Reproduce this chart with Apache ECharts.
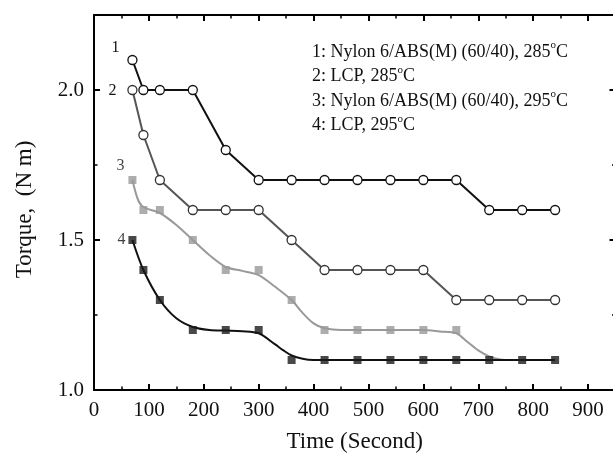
<!DOCTYPE html>
<html>
<head>
<meta charset="utf-8">
<script src="https://cdn.jsdelivr.net/npm/echarts@6/dist/echarts.min.js"></script>
<style>
html,body{margin:0;padding:0;background:#fff;overflow:hidden;}
#chart{width:620px;height:461px;}
</style>
</head>
<body>
<div id="chart"></div>
<script>
// ---- data ----
var times = [70, 90, 120, 180, 240, 300, 360, 420, 480, 540, 600, 660, 720, 780, 840];
var torque1 = [2.1, 2.0, 2.0, 2.0, 1.8, 1.7, 1.7, 1.7, 1.7, 1.7, 1.7, 1.7, 1.6, 1.6, 1.6];
var torque2 = [2.0, 1.85, 1.7, 1.6, 1.6, 1.6, 1.5, 1.4, 1.4, 1.4, 1.4, 1.3, 1.3, 1.3, 1.3];
var torque3 = [1.7, 1.6, 1.6, 1.5, 1.4, 1.4, 1.3, 1.2, 1.2, 1.2, 1.2, 1.2];
var torque4 = [1.5, 1.4, 1.3, 1.2, 1.2, 1.2, 1.1, 1.1, 1.1, 1.1, 1.1, 1.1, 1.1, 1.1, 1.1];
// fitted (smoothed) curves
var fit3Times = [70, 80, 90, 120, 150, 180, 210, 240, 270, 300, 330, 360, 380, 400, 420, 450, 500, 550, 600, 630, 660, 680, 700, 720, 740, 760];
var fit3 = [1.70, 1.635, 1.61, 1.59, 1.55, 1.50, 1.45, 1.41, 1.397, 1.383, 1.344, 1.30, 1.257, 1.222, 1.206, 1.20, 1.20, 1.20, 1.20, 1.195, 1.189, 1.161, 1.132, 1.112, 1.102, 1.10];
var fit4Times = [70, 90, 120, 150, 180, 210, 240, 270, 300, 330, 345, 360, 380, 400, 420, 840];
var fit4 = [1.50, 1.40, 1.30, 1.239, 1.21, 1.20, 1.198, 1.196, 1.189, 1.152, 1.132, 1.115, 1.104, 1.10, 1.10, 1.10];
var curveIds = ['1', '2', '3', '4'];
var legendLines = [
  '1: Nylon 6/ABS(M) (60/40), 285{sup|o}C',
  '2: LCP, 285{sup|o}C',
  '3: Nylon 6/ABS(M) (60/40), 295{sup|o}C',
  '4: LCP, 295{sup|o}C'
];
var xTicks = {min: 0, max: 950, interval: 100};
var yTicks = {min: 1.0, max: 2.25, interval: 0.5};

var FONT = 'Liberation Serif';

function pairs(xs, ys) {
  var out = [];
  for (var i = 0; i < ys.length; i++) out.push([xs[i], ys[i]]);
  return out;
}
function withIdLabel(data, id, offset) {
  data[0] = {value: data[0], label: {show: true, formatter: id, position: 'inside', offset: offset,
    fontFamily: FONT, fontSize: 16, color: '#111'}};
  return data;
}

var d1 = withIdLabel(pairs(times, torque1), curveIds[0], [-17, -12]);
var d2 = withIdLabel(pairs(times, torque2), curveIds[1], [-20, 1]);
var d3 = withIdLabel(pairs(times, torque3), curveIds[2], [-12, -14]);
var d4 = withIdLabel(pairs(times, torque4), curveIds[3], [-11, 0]);

var axisCommon = {
  axisLine: {show: true, onZero: false, lineStyle: {color: '#000', width: 2}},
  axisTick: {show: true, inside: true, length: 6, lineStyle: {color: '#000', width: 2}},
  minorTick: {show: true, splitNumber: 2, length: 3.5, lineStyle: {color: '#000', width: 1.5}},
  splitLine: {show: false}
};

var chart = echarts.init(document.getElementById('chart'), null, {renderer: 'canvas'});
chart.setOption({
  animation: false,
  backgroundColor: '#fff',
  grid: {left: 94, top: 15, width: 521.5, height: 375, containLabel: false},
  title: {
    left: 312, top: 40, padding: 0,
    text: legendLines.join('\n'),
    textStyle: {
      fontFamily: FONT, fontSize: 18, fontWeight: 'normal', color: '#111', lineHeight: 24.5,
      rich: {sup: {fontFamily: FONT, fontSize: 11, verticalAlign: 'top', lineHeight: 24.5, padding: [0, 0, 9, 0], color: '#111'}}
    }
  },
  xAxis: [
    Object.assign({
      type: 'value', position: 'bottom', min: xTicks.min, max: xTicks.max, interval: xTicks.interval,
      name: 'Time (Second)', nameLocation: 'middle', nameGap: 40,
      nameTextStyle: {fontFamily: FONT, fontSize: 23, color: '#111'},
      axisLabel: {show: true, margin: 10, showMaxLabel: false, fontFamily: FONT, fontSize: 21, color: '#111'}
    }, axisCommon),
    Object.assign({
      type: 'value', position: 'top', min: xTicks.min, max: xTicks.max, interval: xTicks.interval,
      axisLabel: {show: false}
    }, axisCommon)
  ],
  yAxis: [
    Object.assign({
      type: 'value', position: 'left', min: yTicks.min, max: yTicks.max, interval: yTicks.interval,
      name: 'Torque,  (N m)', nameLocation: 'middle', nameGap: 58,
      nameTextStyle: {fontFamily: FONT, fontSize: 23, color: '#111', padding: [0, 14, 0, 0]},
      axisLabel: {show: true, margin: 10, showMaxLabel: false, fontFamily: FONT, fontSize: 21, color: '#111',
        formatter: function (v) { return v.toFixed(1); }}
    }, axisCommon),
    Object.assign({
      type: 'value', position: 'right', min: yTicks.min, max: yTicks.max, interval: yTicks.interval,
      axisLabel: {show: false}
    }, axisCommon)
  ],
  series: [
    {type: 'line', data: pairs(fit3Times, fit3), symbol: 'none', smooth: 0.3,
      lineStyle: {color: '#999', width: 2}, z: 2, silent: true},
    {type: 'line', data: pairs(fit4Times, fit4), symbol: 'none', smooth: 0.3,
      lineStyle: {color: '#111', width: 2}, z: 3, silent: true},
    {type: 'scatter', data: d3, symbol: 'rect', symbolSize: 8,
      itemStyle: {color: '#999'}, z: 5},
    {type: 'scatter', data: d4, symbol: 'rect', symbolSize: 8,
      itemStyle: {color: '#1a1a1a'}, z: 5},
    {type: 'line', data: d2, symbol: 'circle', symbolSize: 9,
      lineStyle: {color: '#555', width: 2}, itemStyle: {color: '#fff', borderColor: '#333', borderWidth: 1.3}, z: 6},
    {type: 'line', data: d1, symbol: 'circle', symbolSize: 9,
      lineStyle: {color: '#111', width: 2}, itemStyle: {color: '#fff', borderColor: '#111', borderWidth: 1.3}, z: 7}
  ]
});
</script>
</body>
</html>
